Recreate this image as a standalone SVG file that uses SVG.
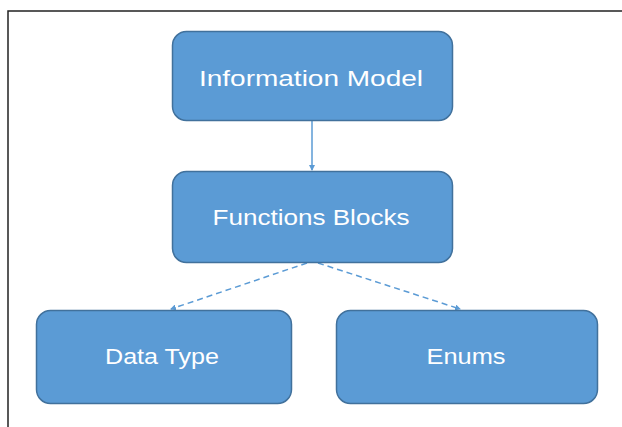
<svg xmlns="http://www.w3.org/2000/svg" width="622" height="427" viewBox="0 0 622 427">
<style>
.box{fill:#5B9BD5;stroke:#41719C;stroke-width:1.5}
.lbl{fill:#FFFFFF;font-family:"Liberation Sans","Open Sans",sans-serif;font-size:22px;text-anchor:middle}
.con{stroke:#5B9BD5;stroke-width:1.5;fill:none}
.dash{stroke-dasharray:6 4}
</style>
<defs>
<marker id="arr" markerWidth="6" markerHeight="6" refX="5" refY="3" orient="auto" markerUnits="userSpaceOnUse">
<path d="M0,0 L6,3 L0,6 Z" fill="#5B9BD5"/>
</marker>
</defs>
<rect x="0" y="0" width="622" height="427" fill="#FFFFFF"/>
<path d="M8,427 L8,11 L622,11" fill="none" stroke="#222222" stroke-width="1.5"/>
<g id="connectors">
<line class="con" x1="312" y1="120" x2="312" y2="170" marker-end="url(#arr)"/>
<line class="con dash" x1="307" y1="263" x2="171" y2="309" marker-end="url(#arr)"/>
<line class="con dash" x1="318" y1="263" x2="460" y2="309" marker-end="url(#arr)"/>
</g>
<g id="information-model">
<rect class="box" x="172.5" y="31.5" width="280" height="89" rx="14"/>
<text class="lbl" x="311" y="86" textLength="224" lengthAdjust="spacingAndGlyphs">Information Model</text>
</g>
<g id="functions-blocks">
<rect class="box" x="172.5" y="171.5" width="280" height="91" rx="14"/>
<text class="lbl" x="311" y="225" textLength="197" lengthAdjust="spacingAndGlyphs">Functions Blocks</text>
</g>
<g id="data-type">
<rect class="box" x="36.5" y="310.5" width="255" height="93" rx="14"/>
<text class="lbl" x="162" y="364" textLength="114" lengthAdjust="spacingAndGlyphs">Data Type</text>
</g>
<g id="enums">
<rect class="box" x="336.5" y="310.5" width="261" height="93" rx="14"/>
<text class="lbl" x="466" y="364" textLength="79" lengthAdjust="spacingAndGlyphs">Enums</text>
</g>
</svg>
